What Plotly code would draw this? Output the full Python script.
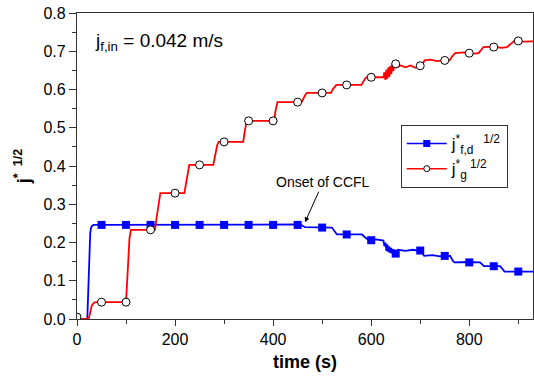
import plotly.graph_objects as go

# ---- data ----
# j_g^{*1/2} line (time s, value)
t_g = [0, 5, 24, 27, 30, 35, 40, 100, 102, 104, 107, 110, 159, 163, 167, 170, 219, 223, 226, 229,
       278, 282, 286, 289, 339, 342, 345, 348, 402, 405, 409, 458, 462, 466, 469, 518, 522, 526, 529,
       580, 584, 588, 591, 625, 627, 629, 631, 633, 635, 637, 639, 641, 643, 645, 648, 652, 660, 670,
       680, 690, 698, 702, 706, 709, 720, 735, 750, 760, 764, 768, 771, 790, 805, 819, 823, 826, 829,
       850, 865, 877, 882, 887, 892, 910, 930]
v_g = [0.005, 0.0, 0.0, 0.015, 0.035, 0.043, 0.044, 0.044, 0.09, 0.16, 0.21, 0.233, 0.233, 0.27, 0.31, 0.329,
       0.329, 0.36, 0.39, 0.403, 0.403, 0.43, 0.455, 0.463, 0.463, 0.49, 0.51, 0.518, 0.518, 0.545, 0.567,
       0.567, 0.578, 0.587, 0.591, 0.591, 0.601, 0.609, 0.612, 0.612, 0.622, 0.629, 0.632, 0.632, 0.645,
       0.625, 0.652, 0.628, 0.658, 0.633, 0.662, 0.64, 0.666, 0.648, 0.667, 0.658, 0.663, 0.658, 0.663,
       0.657, 0.662, 0.662, 0.67, 0.676, 0.678, 0.674, 0.677, 0.676, 0.685, 0.692, 0.695, 0.697, 0.693,
       0.695, 0.702, 0.708, 0.711, 0.712, 0.709, 0.711, 0.716, 0.722, 0.727, 0.725, 0.726]
# j_g markers
t_g_mk = [0, 50, 100, 150, 200, 250, 300, 350, 400, 450, 500, 550, 600, 650, 700, 750, 800, 850, 900]
v_g_mk = [0.005, 0.044, 0.044, 0.233, 0.329, 0.403, 0.463, 0.518, 0.518, 0.567, 0.591, 0.612, 0.632,
          0.667, 0.662, 0.676, 0.695, 0.711, 0.727]

# j_f,d^{*1/2} line
t_f = [0, 5, 21, 23, 25, 27, 29, 31, 34, 40, 200, 455, 460, 465, 520, 524, 527, 530, 581, 586, 591,
       595, 610, 625, 627, 629, 631, 633, 635, 637, 639, 641, 643, 645, 649, 655, 670, 685, 699, 703,
       706, 708, 725, 740, 761, 764, 767, 770, 795, 822, 826, 830, 863, 867, 872, 900, 930]
v_f = [0.005, 0.0, 0.0, 0.07, 0.17, 0.225, 0.24, 0.244, 0.246, 0.246, 0.246, 0.247, 0.244, 0.24, 0.239,
       0.232, 0.225, 0.221, 0.221, 0.215, 0.21, 0.207, 0.208, 0.205, 0.19, 0.2, 0.178, 0.195, 0.175, 0.19,
       0.172, 0.186, 0.171, 0.182, 0.171, 0.181, 0.178, 0.181, 0.179, 0.177, 0.169, 0.165, 0.167, 0.164,
       0.165, 0.157, 0.151, 0.148, 0.149, 0.148, 0.142, 0.138, 0.138, 0.131, 0.124, 0.124, 0.124]
# j_f,d markers
t_f_mk = [50, 100, 150, 200, 250, 300, 350, 400, 450, 500, 550, 600, 650, 700, 750, 800, 850, 900]
v_f_mk = [0.246, 0.246, 0.246, 0.246, 0.246, 0.246, 0.246, 0.246, 0.246, 0.239, 0.221, 0.206,
          0.171, 0.179, 0.165, 0.148, 0.138, 0.124]

x_ticks = [0, 200, 400, 600, 800]
y_ticks = [0.0, 0.1, 0.2, 0.3, 0.4, 0.5, 0.6, 0.7, 0.8]
y_tick_labels = ["0.0", "0.1", "0.2", "0.3", "0.4", "0.5", "0.6", "0.7", "0.8"]

name_f = "j<sup>*</sup><sub>f,d</sub><sup>   1/2</sup>"
name_g = "j<sup>*</sup><sub>g</sub><sup> 1/2</sup>"

BLUE = "#0000FF"
RED = "#FF0000"
FONT = "Liberation Sans, Arial, sans-serif"

fig = go.Figure()
fig.add_trace(go.Scatter(x=t_f, y=v_f, mode="lines", line=dict(color=BLUE, width=1.8),
                         showlegend=False, hoverinfo="skip"))
fig.add_trace(go.Scatter(x=t_f_mk, y=v_f_mk, mode="markers",
                         marker=dict(symbol="square", size=8, color=BLUE), showlegend=False))
fig.add_trace(go.Scatter(x=t_g, y=v_g, mode="lines", line=dict(color=RED, width=1.8),
                         showlegend=False, hoverinfo="skip"))
fig.add_trace(go.Scatter(x=t_g_mk, y=v_g_mk, mode="markers",
                         marker=dict(symbol="circle", size=8, color="white",
                                     line=dict(color="black", width=1)), showlegend=False))
# legend entries
fig.add_trace(go.Scatter(x=[None], y=[None], mode="lines+markers", name=name_f,
                         line=dict(color=BLUE, width=1.5),
                         marker=dict(symbol="square", size=7, color=BLUE)))
fig.add_trace(go.Scatter(x=[None], y=[None], mode="lines+markers", name=name_g,
                         line=dict(color=RED, width=1.5),
                         marker=dict(symbol="circle", size=6, color="white",
                                     line=dict(color="black", width=1))))

fig.update_layout(
    width=534, height=381,
    margin=dict(l=77, r=1, t=13, b=62, autoexpand=False),
    paper_bgcolor="white", plot_bgcolor="white",
    font=dict(family=FONT, color="black", size=16),
    legend=dict(x=0.71, y=0.634, xanchor="left", yanchor="top",
                bordercolor="#333333", borderwidth=1, bgcolor="white",
                font=dict(size=17), itemwidth=40, tracegroupgap=0),
    xaxis=dict(range=[0, 930], tickvals=x_ticks, ticks="outside", ticklen=6, tickwidth=1,
               minor=dict(dtick=100, ticks="outside", ticklen=4, tickcolor="#333333"),
               showline=True, linecolor="#333333", linewidth=1.2, mirror=True,
               showgrid=False, zeroline=False, tickcolor="#333333", automargin=False,
               tickfont=dict(size=16),
               title=dict(text="<b>time (s)</b>", font=dict(size=18), standoff=8)),
    yaxis=dict(range=[0, 0.8], tickvals=y_ticks, ticktext=y_tick_labels, ticks="outside",
               ticklen=7, tickwidth=1,
               minor=dict(dtick=0.05, ticks="outside", ticklen=4, tickcolor="#333333"),
               showline=True, linecolor="#333333", linewidth=1.2, mirror=True,
               showgrid=False, zeroline=False, tickcolor="#333333", automargin=False,
               tickfont=dict(size=16),
               title=dict(text="<b>j<sup>*  1/2</sup></b>", font=dict(size=18), standoff=8)),
    annotations=[
        dict(text="j<sub>f,in</sub> = 0.042 m/s", xref="paper", yref="paper", x=0.036, y=0.905,
             xanchor="left", yanchor="middle", showarrow=False, font=dict(size=19)),
        dict(text="Onset of CCFL", x=465, y=0.253, xref="x", yref="y", showarrow=True,
             ax=18, ay=-40, arrowhead=2, arrowsize=1, arrowwidth=1, arrowcolor="black",
             font=dict(size=14)),
    ],
)

fig.write_html("out.html", config={"displayModeBar": False},
               post_script="document.body.style.margin='0';document.body.style.padding='0';")
